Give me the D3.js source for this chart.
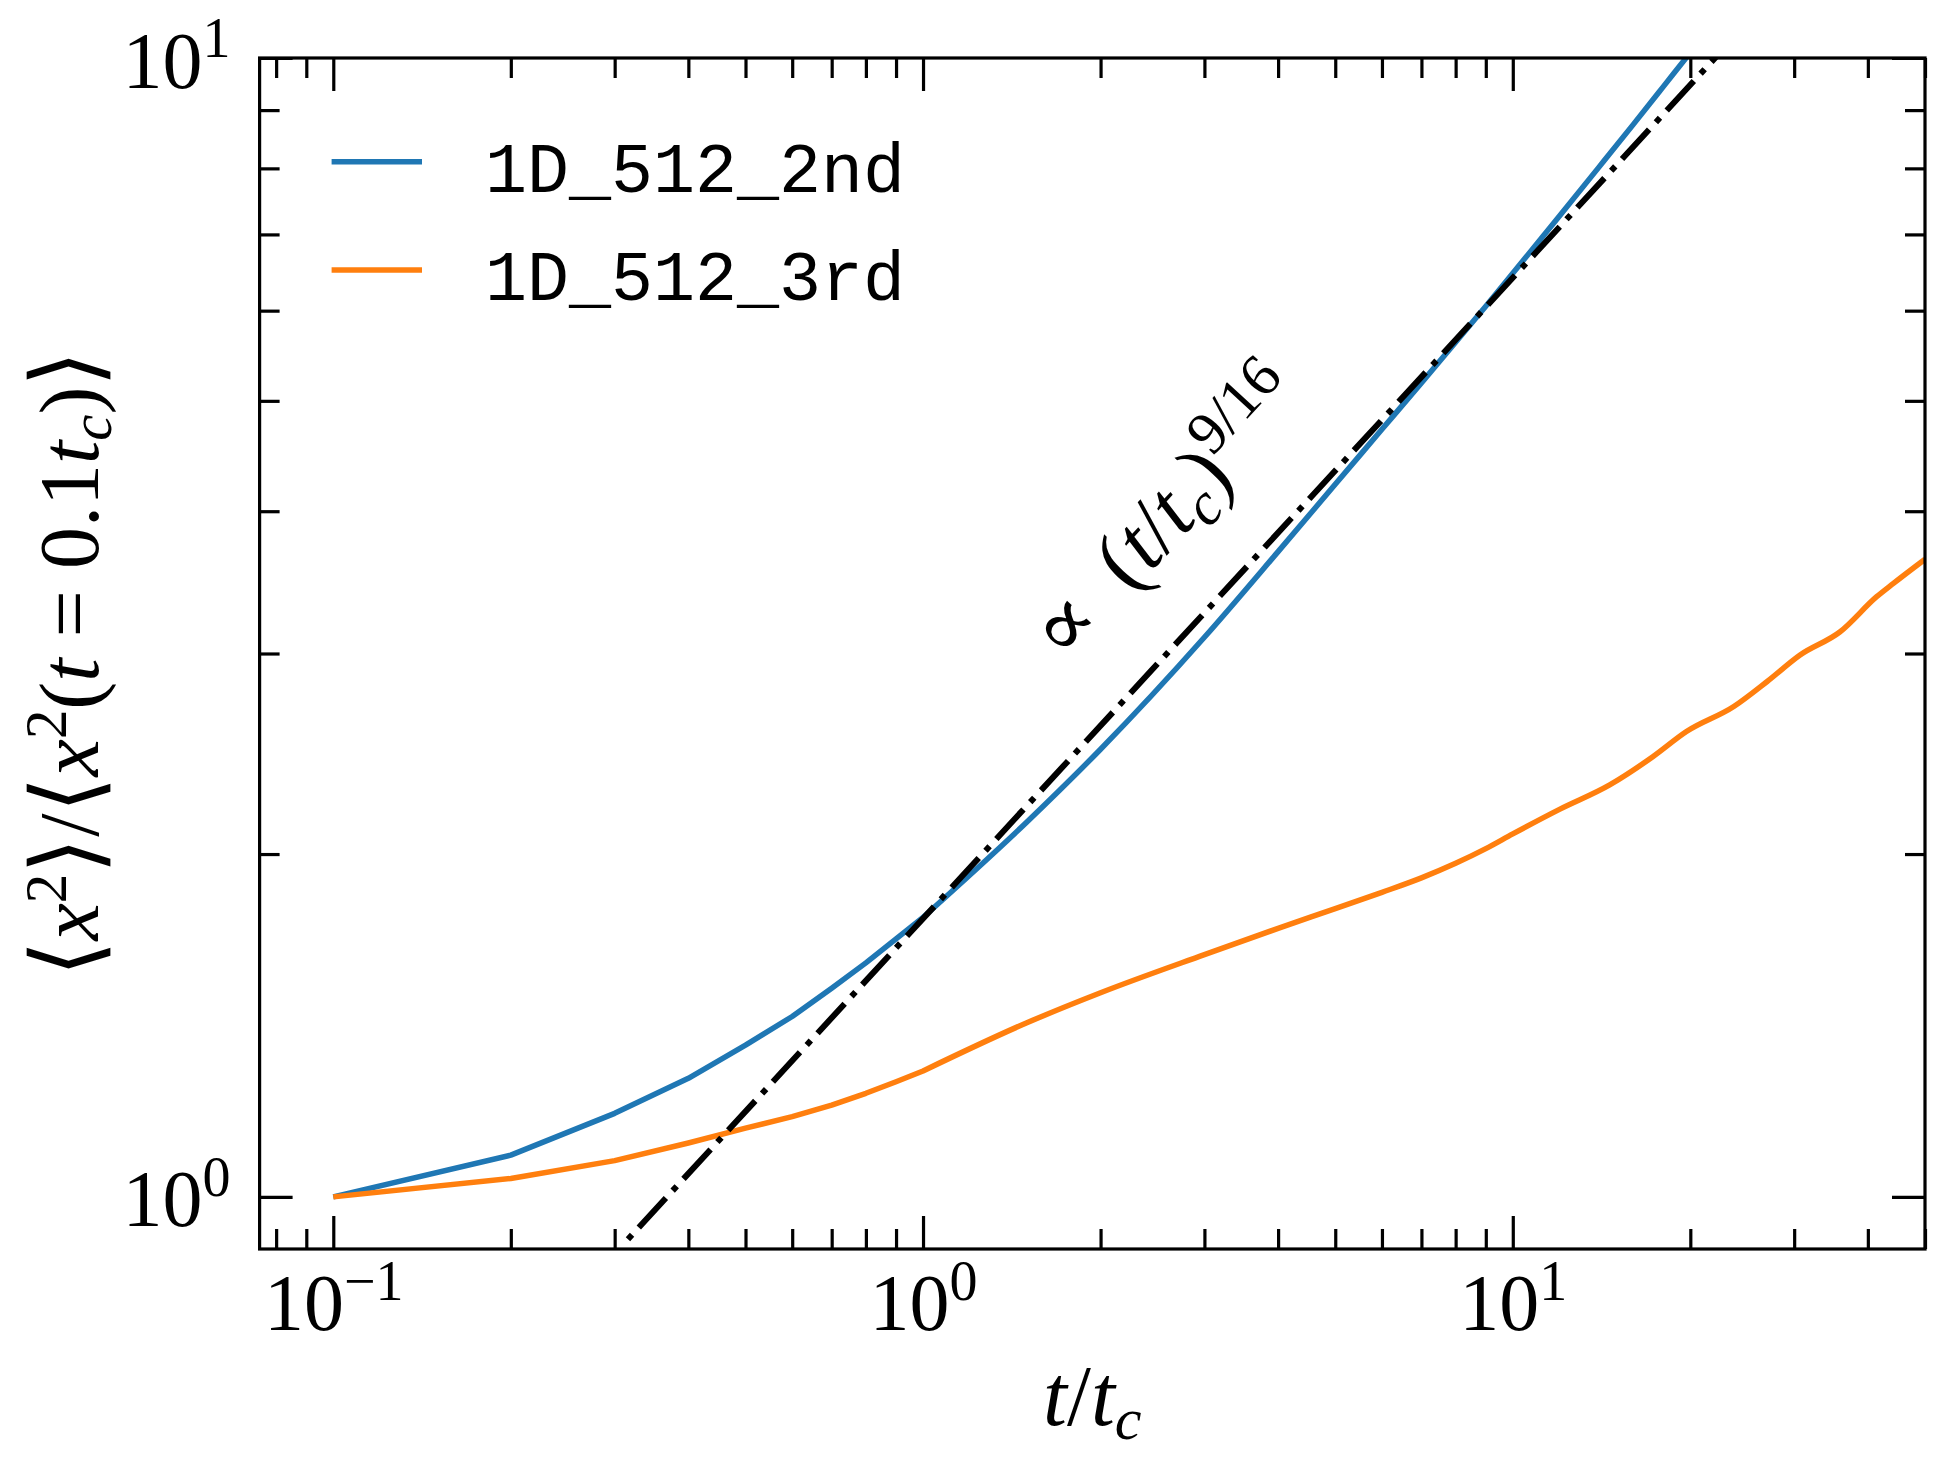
<!DOCTYPE html>
<html>
<head>
<meta charset="utf-8">
<script src="https://cdn.jsdelivr.net/npm/d3@7"></script>
<style>
  body { margin: 0; background: #fff; }
  svg { display: block; }
</style>
</head>
<body>
<div id="chart-area"></div>
<script>
var width = 1954;
var height = 1474;

// <x^2> normalised by its value at t = 0.1 t_c
var timeBlue = [0.1, 0.2, 0.3, 0.4, 0.5, 0.6, 0.7, 0.8, 0.9, 1, 1.5, 2, 3, 4, 5, 6, 7, 8, 9, 10, 12, 14, 16, 18, 20, 22];
var msdBlue = [1.0, 1.088, 1.184, 1.271, 1.359, 1.44, 1.525, 1.605, 1.685, 1.76, 2.134, 2.472, 3.10, 3.686, 4.224, 4.72, 5.185, 5.629, 6.055, 6.471, 7.266, 8.02, 8.74, 9.437, 10.11, 10.75];

var timeOrange = [0.1, 0.2, 0.3, 0.4, 0.5, 0.6, 0.7, 0.8, 0.9, 1, 1.5, 2, 3, 4, 5, 6, 7, 8, 9, 10, 12, 14.6, 17.3, 19.7, 23.7, 27, 30.7, 35.9, 41.4, 44.2, 50];
var msdOrange = [1.0, 1.038, 1.076, 1.115, 1.149, 1.176, 1.204, 1.233, 1.262, 1.29, 1.422, 1.511, 1.632, 1.721, 1.791, 1.851, 1.906, 1.963, 2.022, 2.083, 2.189, 2.30, 2.436, 2.562, 2.695, 2.835, 2.991, 3.135, 3.365, 3.457, 3.63];

var seriesNames = ["1D_512_2nd", "1D_512_3rd"];
var seriesColors = ["#1f77b4", "#ff7f0e"];

// end points of the dash-dot guide  ~ (t/t_c)^(9/16)
var guideTime = [0.316, 30];
var guideMsd = [0.918, 11.9];
var guideLabelAt = [1.74, 2.93];

var xMajor = [0.1, 1, 10];
var xMinor = [0.08, 0.09, 0.2, 0.3, 0.4, 0.5, 0.6, 0.7, 0.8, 0.9, 2, 3, 4, 5, 6, 7, 8, 9, 20, 30, 40, 50];
var yMajor = [1, 10];
var yMinor = [2, 3, 4, 5, 6, 7, 8, 9];
var xTickText = [["10", "\u22121"], ["10", "0"], ["10", "1"]];
var yTickText = [["10", "0"], ["10", "1"]];

var plot = {left: 259.6, right: 1925, top: 58, bottom: 1249};
var serif = "'Liberation Serif', 'DejaVu Serif', serif";
var bracketFont = "'DejaVu Sans ExtraLight', 'DejaVu Sans', sans-serif";
var fontSize = 80;

var svg = d3.select("#chart-area").append("svg")
    .attr("width", width)
    .attr("height", height)
    .style("background", "#fff");

var x = d3.scaleLog().domain([0.075, 50]).range([plot.left, plot.right]);
var y = d3.scaleLog().domain([0.9, 10]).range([plot.bottom, plot.top]);

// write math-ish text with italic, sub and superscript pieces
function mathText(sel, parts, size) {
    var shift = 0;
    parts.forEach(function(p) {
        var target = p.sup ? -0.38 * size : (p.sub ? 0.16 * size : 0);
        var ts = sel.append("tspan").text(p.s);
        if (p.i) ts.attr("font-style", "italic");
        if (p.sup || p.sub) ts.attr("font-size", size * 0.7);
        if (p.big) ts.attr("font-size", size * 1.12).attr("font-family", bracketFont).attr("font-weight", 200);
        if (target !== shift) {
            ts.attr("dy", target - shift);
            shift = target;
        }
    });
}

svg.append("clipPath")
    .attr("id", "plot-clip")
    .append("rect")
    .attr("x", plot.left)
    .attr("y", plot.top)
    .attr("width", plot.right - plot.left)
    .attr("height", plot.bottom - plot.top);

// axes, ticks pointing inwards on all four sides
function styleAxis(g) {
    g.select(".domain").remove();
    g.attr("font-family", serif).attr("font-size", fontSize);
    g.selectAll(".tick line").attr("stroke", "#000").attr("stroke-width", 3.2);
}

var bottomMajor = svg.append("g")
    .attr("transform", "translate(0," + plot.bottom + ")")
    .call(d3.axisBottom(x).tickValues(xMajor).tickSizeInner(-33).tickSizeOuter(0));
styleAxis(bottomMajor);
bottomMajor.selectAll(".tick text")
    .attr("dy", null)
    .attr("y", 81)
    .attr("fill", "#000")
    .attr("text-anchor", "middle")
    .each(function(d, i) {
        var t = d3.select(this).text(null);
        mathText(t, [{s: xTickText[i][0]}, {s: xTickText[i][1], sup: 1}], fontSize);
    });

svg.append("g")
    .attr("transform", "translate(0," + plot.bottom + ")")
    .call(d3.axisBottom(x).tickValues(xMinor).tickSizeInner(-20).tickSizeOuter(0).tickFormat(""))
    .call(styleAxis);

svg.append("g")
    .attr("transform", "translate(0," + plot.top + ")")
    .call(d3.axisTop(x).tickValues(xMajor).tickSizeInner(-33).tickSizeOuter(0).tickFormat(""))
    .call(styleAxis);

svg.append("g")
    .attr("transform", "translate(0," + plot.top + ")")
    .call(d3.axisTop(x).tickValues(xMinor).tickSizeInner(-20).tickSizeOuter(0).tickFormat(""))
    .call(styleAxis);

var leftMajor = svg.append("g")
    .attr("transform", "translate(" + plot.left + ",0)")
    .call(d3.axisLeft(y).tickValues(yMajor).tickSizeInner(-33).tickSizeOuter(0));
styleAxis(leftMajor);
leftMajor.selectAll(".tick text")
    .attr("dy", null)
    .attr("x", -29)
    .attr("y", 29)
    .attr("fill", "#000")
    .attr("text-anchor", "end")
    .each(function(d, i) {
        var t = d3.select(this).text(null);
        mathText(t, [{s: yTickText[i][0]}, {s: yTickText[i][1], sup: 1}], fontSize);
    });

svg.append("g")
    .attr("transform", "translate(" + plot.left + ",0)")
    .call(d3.axisLeft(y).tickValues(yMinor).tickSizeInner(-20).tickSizeOuter(0).tickFormat(""))
    .call(styleAxis);

svg.append("g")
    .attr("transform", "translate(" + plot.right + ",0)")
    .call(d3.axisRight(y).tickValues(yMajor).tickSizeInner(-33).tickSizeOuter(0).tickFormat(""))
    .call(styleAxis);

svg.append("g")
    .attr("transform", "translate(" + plot.right + ",0)")
    .call(d3.axisRight(y).tickValues(yMinor).tickSizeInner(-20).tickSizeOuter(0).tickFormat(""))
    .call(styleAxis);

// data lines: straight segments for the coarse early samples, smooth after t = 1
var lineCoarse = d3.line()
    .x(function(d) { return x(d[0]); })
    .y(function(d) { return y(d[1]); });
var lineSmooth = d3.line()
    .curve(d3.curveMonotoneX)
    .x(function(d) { return x(d[0]); })
    .y(function(d) { return y(d[1]); });

var series = [d3.zip(timeBlue, msdBlue), d3.zip(timeOrange, msdOrange)];
var lines = svg.append("g").attr("clip-path", "url(#plot-clip)");

series.forEach(function(pts, i) {
    var early = pts.filter(function(d) { return d[0] <= 1; });
    var late = pts.filter(function(d) { return d[0] >= 1; });
    lines.append("path")
        .attr("d", lineCoarse(early) + lineSmooth(late).replace(/^M/, "L"))
        .attr("fill", "none")
        .attr("stroke", seriesColors[i])
        .attr("stroke-width", 5.5)
        .attr("stroke-linejoin", "round");
});

lines.append("path")
    .datum(d3.zip(guideTime, guideMsd))
    .attr("d", lineCoarse)
    .attr("fill", "none")
    .attr("stroke", "#000")
    .attr("stroke-width", 6)
    .attr("stroke-dasharray", "6 10 40 10");

// guide label, turned along the guide line
var angle = Math.atan2(y(guideMsd[1]) - y(guideMsd[0]), x(guideTime[1]) - x(guideTime[0])) * 180 / Math.PI;
var guideSize = 86;
var guideText = svg.append("text")
    .attr("transform", "translate(" + x(guideLabelAt[0]) + "," + y(guideLabelAt[1]) + ") rotate(" + angle + ")")
    .attr("font-family", serif)
    .attr("font-size", guideSize)
    .attr("fill", "#000");
mathText(guideText, [{s: "\u221D\u00A0\u2009("}, {s: "t", i: 1}, {s: "/"}, {s: "t", i: 1}, {s: "c", i: 1, sub: 1}, {s: ")"}, {s: "9/16", sup: 1}], guideSize);

// frame
svg.append("rect")
    .attr("x", plot.left)
    .attr("y", plot.top)
    .attr("width", plot.right - plot.left)
    .attr("height", plot.bottom - plot.top)
    .attr("fill", "none")
    .attr("stroke", "#000")
    .attr("stroke-width", 3.2);

// axis labels
var xLabel = svg.append("text")
    .attr("x", (plot.left + plot.right) / 2)
    .attr("y", 1425)
    .attr("text-anchor", "middle")
    .attr("font-family", serif)
    .attr("font-size", 86)
    .attr("fill", "#000");
mathText(xLabel, [{s: "t", i: 1}, {s: "/"}, {s: "t", i: 1}, {s: "c", i: 1, sub: 1}], 86);

var yLabel = svg.append("text")
    .attr("transform", "translate(97.5," + ((plot.top + plot.bottom) / 2 + 10) + ") rotate(-90)")
    .attr("text-anchor", "middle")
    .attr("font-family", serif)
    .attr("font-size", 84)
    .attr("fill", "#000");
mathText(yLabel, [
    {s: "\u27E8", big: 1}, {s: "x", i: 1}, {s: "2", sup: 1}, {s: "\u27E9", big: 1}, {s: "/"},
    {s: "\u27E8", big: 1}, {s: "x", i: 1}, {s: "2", sup: 1}, {s: "("}, {s: "t", i: 1}, {s: "\u00A0=\u00A00.1"},
    {s: "t", i: 1}, {s: "c", i: 1, sub: 1}, {s: ")"}, {s: "\u27E9", big: 1}
], 84);

// legend, no frame
var legend = svg.append("g");
seriesNames.forEach(function(name, i) {
    var rowY = 161.7 + i * 108.3;
    legend.append("line")
        .attr("x1", 331.6)
        .attr("x2", 422)
        .attr("y1", rowY)
        .attr("y2", rowY)
        .attr("stroke", seriesColors[i])
        .attr("stroke-width", 5.5);
    legend.append("text")
        .attr("x", 485)
        .attr("y", rowY + 30)
        .attr("font-family", "'Liberation Mono', 'DejaVu Sans Mono', monospace")
        .attr("font-size", 70)
        .attr("fill", "#000")
        .text(name);
});
</script>
</body>
</html>
